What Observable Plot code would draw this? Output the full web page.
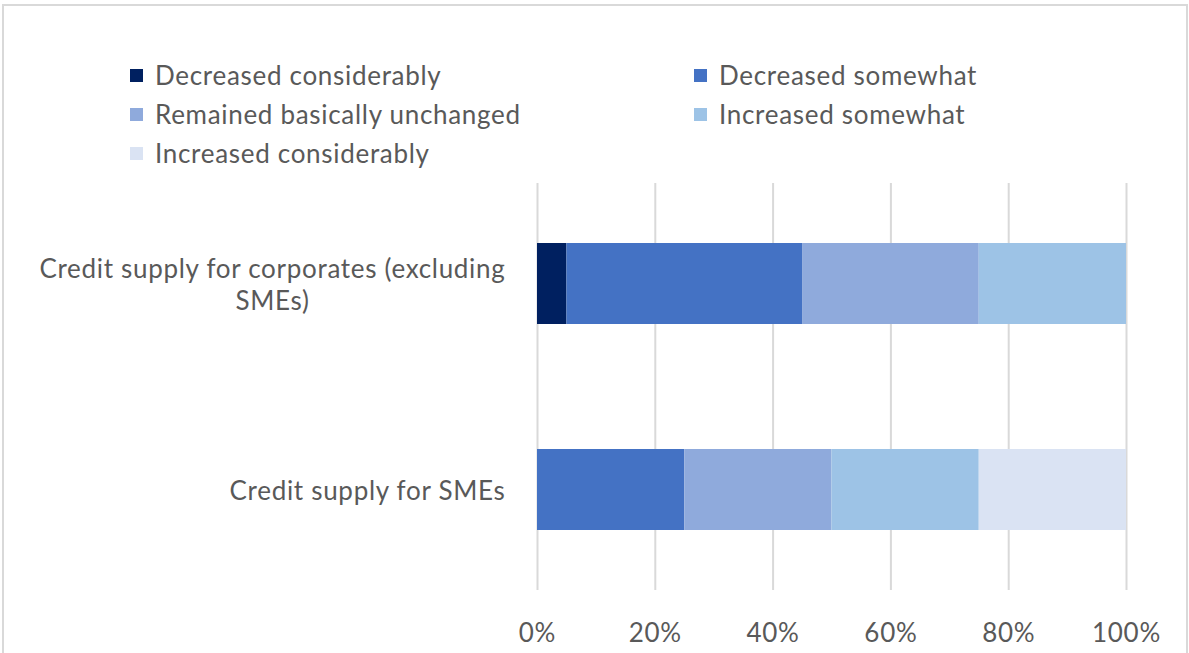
<!DOCTYPE html>
<html>
<head>
<meta charset="utf-8">
<script src="https://cdn.jsdelivr.net/npm/d3@7"></script>
<script src="https://cdn.jsdelivr.net/npm/@observablehq/plot@0.6"></script>
<style>
  html, body { margin: 0; padding: 0; background: #fff; overflow: hidden; }
  body { width: 1189px; height: 653px; position: relative; font-family: Lato, "Open Sans", sans-serif; color: #595959; }
  #frame { position: absolute; left: 2px; top: 4px; width: 1186px; height: 700px; border: 2px solid #d9d9d9; box-sizing: border-box; }
  #legend { position: absolute; left: 130px; top: 58px; width: 1000px; height: 117px; }
  .item { position: absolute; display: flex; align-items: center; font-size: 26px; letter-spacing: 0.7px; white-space: nowrap; height: 34px; }
  .sw { width: 13px; height: 13px; margin-right: 12px; flex: none; }
  #chart { position: absolute; left: 0; top: 175px; }
</style>
</head>
<body>
<div id="frame"></div>
<div id="legend"></div>
<div id="chart"></div>
<script>
const categories = ["Credit supply for corporates (excluding SMEs)", "Credit supply for SMEs"];
const categoryLabels = ["Credit supply for corporates (excluding\nSMEs)", "Credit supply for SMEs"];
const responses = ["Decreased considerably", "Decreased somewhat", "Remained basically unchanged", "Increased somewhat", "Increased considerably"];
const colors = ["#002060", "#4472C4", "#8FAADC", "#9DC3E6", "#DAE3F3"];
const corporatesValues = [5, 40, 30, 25, 0];
const smesValues = [0, 25, 25, 25, 25];
const xTicks = [0, 20, 40, 60, 80, 100];

const seriesByCategory = [corporatesValues, smesValues];
const data = [];
categories.forEach((c, i) => {
  responses.forEach((r, j) => data.push({category: c, response: r, value: seriesByCategory[i][j]}));
});

// legend (two columns, row-major like the original)
const legend = document.getElementById("legend");
responses.forEach((r, i) => {
  const col = i % 2, row = Math.floor(i / 2);
  const d = document.createElement("div");
  d.className = "item";
  d.style.left = (col * 564) + "px";
  d.style.top = (row * 39) + "px";
  d.innerHTML = `<span class="sw" style="background:${colors[i]}"></span><span>${r}</span>`;
  legend.appendChild(d);
});

const plot = Plot.plot({
  width: 1189,
  height: 478,
  marginLeft: 537,
  marginRight: 63,
  marginTop: 8,
  marginBottom: 63,
  style: {fontFamily: "Lato, 'Open Sans', sans-serif", fontSize: "26px", letterSpacing: "0.7px", color: "#595959", background: "transparent"},
  x: {domain: [0, 100]},
  y: {domain: categories, paddingInner: 0.607, paddingOuter: 0.29},
  color: {domain: responses, range: colors},
  marks: [
    Plot.gridX(xTicks, {stroke: "#d9d9d9", strokeWidth: 2, strokeOpacity: 1}),
    Plot.barX(data, Plot.stackX({y: "category", x: "value", fill: "response"})),
    Plot.axisX(xTicks, {tickSize: 0, tickPadding: 33, tickFormat: d => d + "%", label: null}),
    Plot.axisY({tickSize: 0, tickPadding: 32, lineHeight: 1.2, label: null,
      tickFormat: d => categoryLabels[categories.indexOf(d)]})
  ]
});
document.getElementById("chart").appendChild(plot);

// center multi-line y labels within their block (Excel-style)
plot.querySelectorAll('g[aria-label="y-axis tick label"] text').forEach(t => {
  const spans = t.querySelectorAll("tspan");
  if (spans.length > 1) {
    const w = Math.max(...Array.from(spans, s => s.getComputedTextLength()));
    t.setAttribute("text-anchor", "middle");
    spans.forEach(s => s.setAttribute("x", -w / 2));
  }
});
</script>
</body>
</html>
